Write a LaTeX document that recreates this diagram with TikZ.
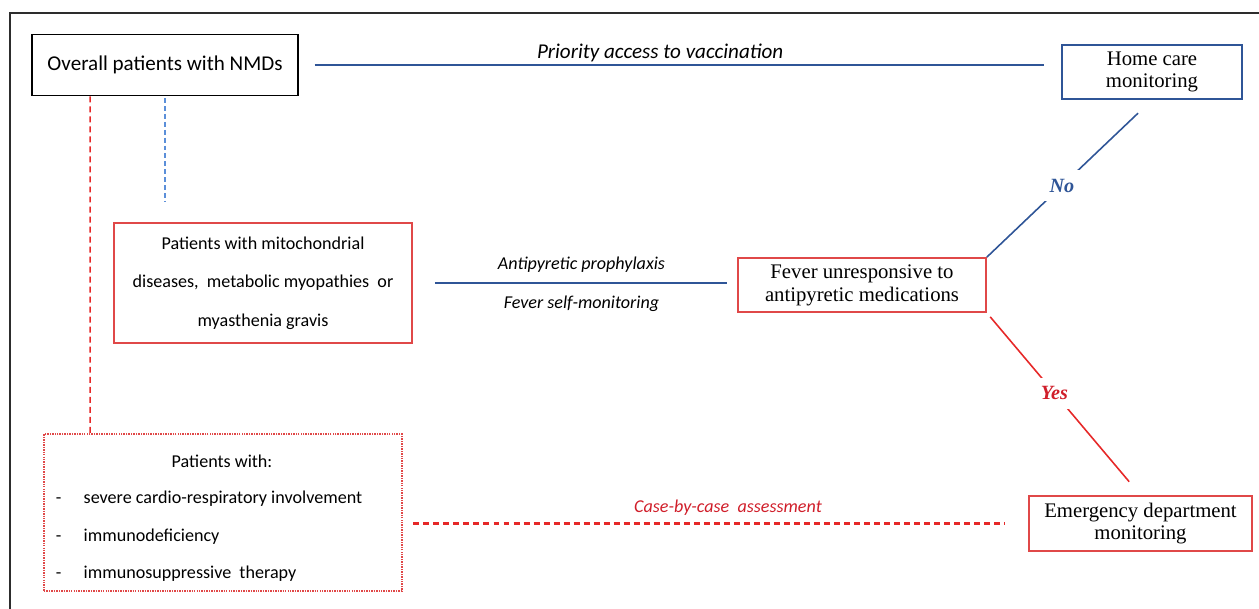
\documentclass[tikz,border=0pt]{standalone}
\usepackage{fontspec}
\setmainfont{Carlito}
\newfontfamily\serifnm{Liberation Serif}
\usetikzlibrary{calc}

\definecolor{lineblue}{RGB}{47,85,151}
\definecolor{dashblue}{RGB}{91,143,217}
\definecolor{boxred}{RGB}{224,72,72}
\definecolor{linered}{RGB}{230,40,40}
\definecolor{textred}{RGB}{208,30,42}
\definecolor{framegray}{RGB}{45,45,45}

\begin{document}
\begin{tikzpicture}[x=0.02cm, y=-0.02cm, line width=0.9pt,
  sanstext/.style={font=\fontsize{10.3}{12.4}\selectfont},
  sertext/.style={font=\serifnm\fontsize{11.8}{13}\selectfont},
  bluebox/.style={draw=lineblue, line width=1pt, align=center, inner sep=0pt},
  redbox/.style={draw=boxred, line width=1pt, align=center, inner sep=0pt},
  blueline/.style={draw=lineblue, line width=0.9pt},
  redline/.style={draw=linered, line width=0.9pt},
  reddash/.style={draw=linered, line width=0.9pt, dash pattern=on 3.4pt off 2.3pt},
  bluedash/.style={draw=dashblue, line width=0.9pt, dash pattern=on 2.8pt off 1.7pt},
  answer/.style={font=\serifnm\bfseries\itshape\fontsize{11.5}{13}\selectfont, fill=white, inner sep=5pt}]

\useasboundingbox (0,0) rectangle (1259,609);

% frame
\draw[framegray, line width=0.85pt] (10,615) -- (10,13) -- (1265,13);

% boxes
\node[draw=black, line width=1pt, inner sep=0pt, minimum width=5.32cm, minimum height=1.22cm,
  font=\fontsize{12}{14}\selectfont] (over) at (165,65) {Overall patients with NMDs};

\node[bluebox, sertext, minimum width=3.6cm, minimum height=1.08cm] (home) at (1152,72)
  {Home care\\monitoring};

\node[redbox, minimum width=5.96cm, minimum height=2.4cm, font=\fontsize{10.3}{21.8}\selectfont]
  (mito) at (263,283) {Patients with mitochondrial\\diseases,\ \ metabolic myopathies\ \ or\\myasthenia gravis};

\node[redbox, sertext, minimum width=4.96cm, minimum height=1.08cm] (fever) at (862,285)
  {Fever unresponsive to\\antipyretic medications};

\node[redbox, sertext, minimum width=4.46cm, minimum height=1.1cm] (emer) at (1140.5,523.5)
  {Emergency department\\monitoring};

\node[draw=boxred, line width=1pt, dash pattern=on 0.8pt off 0.6pt,
  minimum width=7.16cm, minimum height=3.14cm] (pat) at (223,512.5) {};

\node[sanstext] (pattitle) at (222,461) {Patients with:};
\node[sanstext, anchor=west, inner sep=0pt] (itemA) at (55,499)
  {\makebox[15.9pt][l]{-}severe cardio-respiratory involvement};
\node[sanstext, anchor=west, inner sep=0pt] (itemB) at (55,537)
  {\makebox[15.9pt][l]{-}immunodeficiency};
\node[sanstext, anchor=west, inner sep=0pt] (itemC) at (55,574)
  {\makebox[15.9pt][l]{-}immunosuppressive\ \ therapy};

% connectors
\draw[blueline, shorten <=9pt, shorten >=10pt] (over.east) -- (home.west |- over.east)
  node[pos=0.474, above=-2pt, font=\itshape\fontsize{12}{14}\selectfont] (prio)
  {Priority access to vaccination};

\draw[bluedash, shorten <=1pt, shorten >=12pt] (over.south) -- (over.south |- mito.north);

\draw[reddash] ($(over.south west)+(59,0)$) -- ($(pat.north west)+(47,0)$);

\draw[blueline, shorten <=12.5pt, shorten >=6pt] (mito.east) -- (fever.west |- mito.east)
  node[pos=0.52, above=2.5pt, font=\itshape\fontsize{10.3}{12}\selectfont] (prophy)
  {Antipyretic prophylaxis}
  node[pos=0.52, below=3.5pt, font=\itshape\fontsize{10.3}{12}\selectfont] (selfmon)
  {Fever self-monitoring};

\draw[blueline, shorten <=11pt] (home.south) --
  node[answer, pos=0.545, text=lineblue] (no) {No} (fever.north east);

\draw[redline, shorten <=3pt, shorten >=10pt] (fever.south east) --
  node[answer, pos=0.44, text=textred] (yes) {Yes} (emer.north);

\draw[reddash, line width=1.2pt, shorten <=6pt, shorten >=13pt]
  (pat.east |- emer.west) -- (emer.west)
  node[pos=0.52, above=0.5pt, font=\itshape\fontsize{10.3}{12}\selectfont, text=textred] (case)
  {Case-by-case\ \ assessment};

\end{tikzpicture}
\end{document}
